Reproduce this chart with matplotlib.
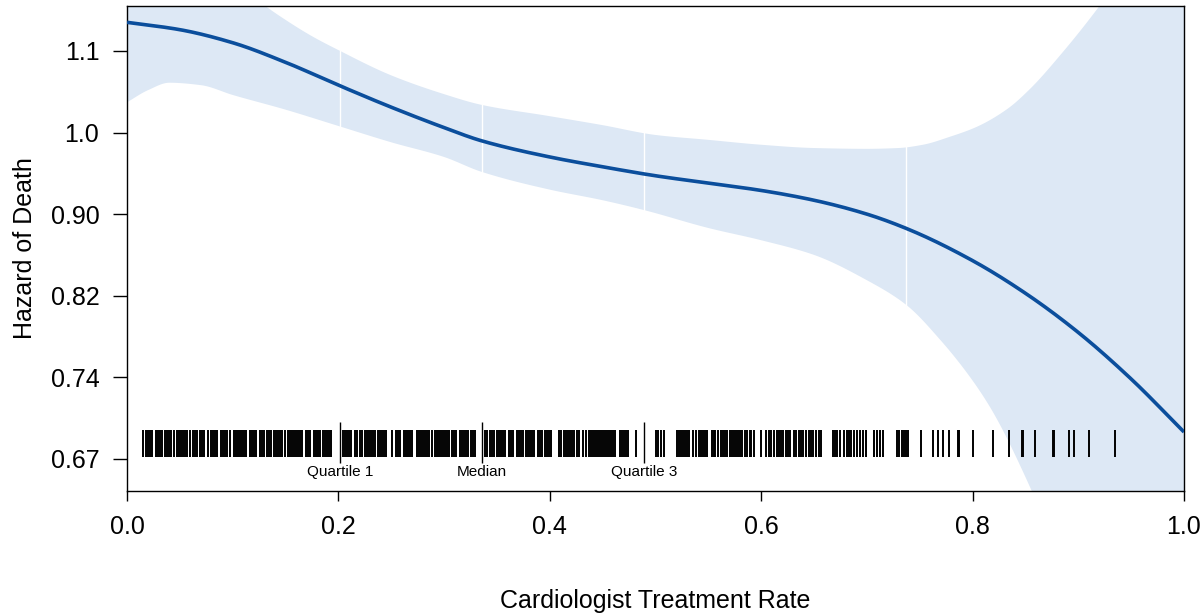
import numpy as np
import matplotlib
matplotlib.use("Agg")
import matplotlib.pyplot as plt

plt.rcParams['font.family'] = ['Liberation Sans', 'DejaVu Sans']

# ---- data (log hazard scale) ----
curve_x = [0.00, 0.05, 0.10, 0.15, 0.20, 0.25, 0.30, 0.335, 0.40, 0.45, 0.50,
           0.55, 0.60, 0.65, 0.70, 0.74, 0.80, 0.85, 0.90, 0.95, 1.00]
curve_loghr = [0.135, 0.126, 0.110, 0.086, 0.058, 0.031, 0.006, -0.010, -0.030, -0.042, -0.053,
               -0.062, -0.071, -0.083, -0.100, -0.119, -0.157, -0.197, -0.245, -0.302, -0.367]

upper_x = [0.00, 0.05, 0.10, 0.13, 0.15, 0.175, 0.20, 0.25, 0.30, 0.335, 0.40, 0.45, 0.50,
           0.55, 0.60, 0.65, 0.70, 0.73, 0.753, 0.779, 0.804, 0.833, 0.854, 0.885, 0.92, 0.95, 1.00]
upper_loghr = [0.26, 0.23, 0.19, 0.156, 0.138, 0.118, 0.101, 0.070, 0.047, 0.034, 0.020, 0.009, -0.003,
               -0.009, -0.015, -0.019, -0.020, -0.019, -0.015, -0.005, 0.007, 0.029, 0.053, 0.098, 0.155, 0.21, 0.32]

lower_x = [0.00, 0.02, 0.04, 0.07, 0.10, 0.15, 0.20, 0.25, 0.30, 0.335, 0.40, 0.45, 0.489,
           0.55, 0.60, 0.65, 0.70, 0.737, 0.77, 0.80, 0.819, 0.851, 0.90, 0.95, 1.00]
lower_loghr = [0.037, 0.052, 0.061, 0.058, 0.046, 0.028, 0.008, -0.012, -0.030, -0.048, -0.070, -0.083, -0.095,
               -0.117, -0.132, -0.150, -0.181, -0.211, -0.255, -0.304, -0.342, -0.425, -0.58, -0.75, -0.93]

quantile_x = [0.2015, 0.336, 0.489]
quantile_labels = ["Quartile 1", "Median", "Quartile 3"]
extra_quantile_x = [0.737]

rug_x = [0.015,
         0.018, 0.020, 0.022, 0.024,
         0.027, 0.029, 0.031, 0.033,
         0.036, 0.038, 0.040, 0.042, 0.044,
         0.047, 0.049, 0.051, 0.053, 0.055, 0.057,
         0.060, 0.062, 0.064, 0.066,
         0.069, 0.071, 0.073,
         0.077, 0.079, 0.081, 0.083, 0.085,
         0.089, 0.091, 0.093, 0.095, 0.097,
         0.101, 0.103, 0.105, 0.107, 0.109, 0.111, 0.113,
         0.116, 0.118, 0.120, 0.122,
         0.126, 0.128, 0.130, 0.132, 0.134, 0.136,
         0.139, 0.141, 0.143, 0.145, 0.147, 0.149,
         0.152, 0.154, 0.156, 0.158, 0.160, 0.162, 0.164, 0.166,
         0.169, 0.171, 0.173,
         0.177, 0.179, 0.181, 0.183, 0.185, 0.187, 0.189, 0.191, 0.193,
         0.204, 0.206, 0.208, 0.210, 0.212,
         0.216, 0.218, 0.220, 0.222,
         0.225, 0.227, 0.229, 0.231, 0.233, 0.235, 0.237, 0.239, 0.241, 0.243, 0.245,
         0.251, 0.254, 0.256, 0.258,
         0.262, 0.264, 0.266, 0.268, 0.270,
         0.274, 0.276, 0.278, 0.280, 0.282, 0.284, 0.286,
         0.289, 0.291, 0.293, 0.295, 0.297, 0.299, 0.301,
         0.303, 0.305, 0.307, 0.309, 0.311,
         0.315, 0.317, 0.319, 0.321, 0.323, 0.325, 0.327, 0.329,
         0.339, 0.341, 0.343, 0.345, 0.347,
         0.350, 0.352, 0.354, 0.356, 0.358,
         0.361, 0.363, 0.365,
         0.369, 0.371, 0.373, 0.375, 0.377, 0.379, 0.381, 0.383, 0.385,
         0.389, 0.391, 0.393, 0.395, 0.397, 0.399, 0.401,
         0.409, 0.411, 0.413, 0.415, 0.417, 0.419, 0.421, 0.423,
         0.426, 0.428, 0.431, 0.434, 0.437, 0.439, 0.441, 0.443,
         0.445, 0.447, 0.448, 0.450, 0.452, 0.454, 0.456, 0.458, 0.460, 0.462,
         0.466, 0.468, 0.470, 0.472, 0.474,
         0.482,
         0.500, 0.502, 0.505, 0.508,
         0.520, 0.522, 0.524, 0.526, 0.528, 0.530, 0.532,
         0.535, 0.538,
         0.541, 0.543, 0.545, 0.547, 0.549,
         0.553, 0.555, 0.556, 0.559, 0.562, 0.564, 0.566, 0.568,
         0.570, 0.572, 0.574, 0.576, 0.578, 0.580, 0.582,
         0.585, 0.587, 0.589, 0.590, 0.593,
         0.600,
         0.605, 0.607, 0.609, 0.612, 0.615, 0.617, 0.619, 0.621,
         0.623, 0.625, 0.627, 0.631, 0.633,
         0.636, 0.638, 0.640, 0.642,
         0.645, 0.647, 0.649, 0.652, 0.655, 0.657,
         0.668, 0.670, 0.672,
         0.675, 0.678, 0.681, 0.683, 0.685, 0.688,
         0.691, 0.693, 0.696, 0.699,
         0.707, 0.710, 0.712, 0.715,
         0.728, 0.730, 0.733, 0.735, 0.737, 0.739,
         0.751, 0.763, 0.767, 0.772, 0.778,
         0.786, 0.787, 0.800, 0.819, 0.834,
         0.847, 0.848, 0.859, 0.876, 0.877,
         0.891, 0.896, 0.910, 0.935]

ytick_pos = [-0.4, -0.3, -0.2, -0.1, 0.0, 0.1]
ytick_labels = ["0.67", "0.74", "0.82", "0.90", "1.0", "1.1"]
xtick_pos = [0.0, 0.2, 0.4, 0.6, 0.8, 1.0]
xtick_labels = ["0.0", "0.2", "0.4", "0.6", "0.8", "1.0"]

band_color = "#DDE8F5"
line_color = "#0B4E9C"


def pchip(x, y, xn):
    """Shape-preserving smooth drawing curve through the read points."""
    x = np.asarray(x, float)
    y = np.asarray(y, float)
    h = np.diff(x)
    delta = np.diff(y) / h
    d = np.zeros_like(y)
    for k in range(1, len(x) - 1):
        if delta[k - 1] * delta[k] > 0:
            w1 = 2 * h[k] + h[k - 1]
            w2 = h[k] + 2 * h[k - 1]
            d[k] = (w1 + w2) / (w1 / delta[k - 1] + w2 / delta[k])
    d[0] = delta[0]
    d[-1] = delta[-1]
    xn = np.asarray(xn, float)
    idx = np.clip(np.searchsorted(x, xn) - 1, 0, len(x) - 2)
    t = (xn - x[idx]) / h[idx]
    h00 = 2 * t**3 - 3 * t**2 + 1
    h10 = t**3 - 2 * t**2 + t
    h01 = -2 * t**3 + 3 * t**2
    h11 = t**3 - t**2
    return h00 * y[idx] + h10 * h[idx] * d[idx] + h01 * y[idx + 1] + h11 * h[idx] * d[idx + 1]


fig = plt.figure(figsize=(12.03, 6.14), dpi=100)
ax = fig.add_axes([0.1056, 0.2003, 0.8786, 0.7899])

grid = np.linspace(0, 1, 1001)
up = pchip(upper_x, upper_loghr, grid)
lo = pchip(lower_x, lower_loghr, grid)
ax.fill_between(grid, lo, up, color=band_color, linewidth=0, zorder=1)

for q in quantile_x + extra_quantile_x:
    ax.plot([q, q], [pchip(lower_x, lower_loghr, [q])[0], pchip(upper_x, upper_loghr, [q])[0]],
            color="white", lw=1.0, zorder=2)

ax.plot(grid, pchip(curve_x, curve_loghr, grid), color=line_color, lw=2.6, zorder=4,
        solid_capstyle="butt")

# rug
ax.vlines(rug_x, -0.398, -0.365, colors="black", lw=1.4, zorder=3)
ax.vlines(quantile_x, -0.405, -0.355, colors="black", lw=1.0, zorder=3)
for q, lab in zip(quantile_x, quantile_labels):
    ax.text(q, -0.416, lab, ha="center", va="center", fontsize=11)

ax.set_xlim(0, 1)
ax.set_ylim(-0.4393, 0.155)
ax.set_yticks(ytick_pos)
ax.set_yticklabels(ytick_labels)
ax.set_xticks(xtick_pos)
ax.set_xticklabels(xtick_labels)
ax.tick_params(axis="y", length=10, width=1, pad=10, labelsize=18)
ax.tick_params(axis="x", length=7, width=1, pad=10, labelsize=18)
for s in ax.spines.values():
    s.set_linewidth(1.0)

ax.set_xlabel("Cardiologist Treatment Rate", fontsize=18)
ax.set_ylabel("Hazard of Death", fontsize=18)
ax.xaxis.set_label_coords(0.5, -0.203)
ax.yaxis.set_label_coords(-0.085, 0.5)

fig.savefig("out.png", dpi=100)
